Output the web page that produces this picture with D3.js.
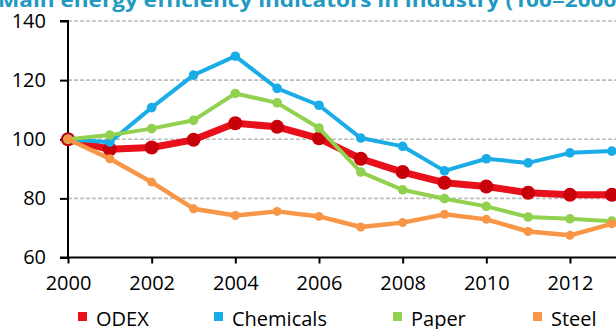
<!DOCTYPE html>
<html>
<head>
<meta charset="utf-8">
<script src="https://cdn.jsdelivr.net/npm/d3@7"></script>
<style>
html,body{margin:0;padding:0;background:#fff;}
svg{display:block;}
text{font-family:"Open Sans","Noto Sans",sans-serif;}
</style>
</head>
<body>
<svg id="chart" width="616" height="329"></svg>
<script>
const title = "Main energy efficiency indicators in industry (100=2000)";
const years = [2000,2001,2002,2003,2004,2005,2006,2007,2008,2009,2010,2011,2012,2013];
const xTicks = [2000,2002,2004,2006,2008,2010,2012];
const yTicks = [60,80,100,120,140];
const seriesNames = ["ODEX","Chemicals","Paper","Steel"];
const odex      = [100,96.6,97.2,99.8,105.4,104.2,100.3,93.4,88.9,85.3,84.0,81.9,81.2,81.2];
const chemicals = [100,99.0,110.7,121.7,128.1,117.2,111.5,100.4,97.6,89.3,93.4,92.0,95.4,96.0];
const paper     = [100,101.4,103.6,106.4,115.5,112.3,103.8,88.9,82.9,79.9,77.3,73.7,73.1,72.3];
const steel     = [100,93.4,85.5,76.5,74.2,75.6,73.9,70.3,71.8,74.6,72.9,68.8,67.5,71.4];

const seriesValues = [odex, chemicals, paper, steel];
const styles = [
  {line:"#e8101a", marker:"#c8000a", lw:7, r:7},
  {line:"#1aace6", marker:"#1aace6", lw:4, r:4.8},
  {line:"#92d050", marker:"#92d050", lw:4, r:4.8},
  {line:"#f79646", marker:"#f79646", lw:4.5, r:4.5}
];
const legendColors = ["#e8101a","#1aace6","#92d050","#f79646"];

const svg = d3.select("#chart");
const x = d3.scaleLinear().domain([2000,2013]).range([68,611.8]);
const y = d3.scaleLinear().domain([60,140]).range([257.5,21]);

// title (cut at top, as in the reference)
svg.append("text")
  .attr("x",-2).attr("y",7)
  .attr("fill","#2299c2")
  .attr("font-weight","bold")
  .attr("font-size",19)
  .attr("textLength",626).attr("lengthAdjust","spacingAndGlyphs")
  .text(title);

// gridlines
svg.append("g").selectAll("line").data(yTicks.filter(d=>d>60)).join("line")
  .attr("x1",68).attr("x2",616)
  .attr("y1",d=>y(d)).attr("y2",d=>y(d))
  .attr("stroke","#bdbdbd").attr("stroke-width",1.6)
  .attr("stroke-dasharray","4,2");

const labelFont = "'Open Sans','Noto Sans',sans-serif";

// y axis
const yAxis = d3.axisLeft(y).tickValues(yTicks).tickSize(8).tickPadding(14).tickFormat(d3.format("d"));
const gy = svg.append("g").attr("transform","translate(68,0)").call(yAxis);
gy.select(".domain").attr("stroke","#000").attr("stroke-width",2).attr("d",`M-8,${y(140)}H0V${y(60)}`);
gy.selectAll(".tick line").attr("stroke","#000").attr("stroke-width",2);
gy.selectAll(".tick text").attr("font-size",20).attr("fill","#000").attr("font-family",labelFont);

// x axis
const xAxis = d3.axisBottom(x).tickValues(xTicks).tickSize(6).tickPadding(12).tickFormat(d3.format("d"));
const gx = svg.append("g").attr("transform",`translate(0,${y(60)})`).call(xAxis);
gx.select(".domain").attr("stroke","#000").attr("stroke-width",2).attr("d","M60,0H616");
gx.selectAll(".tick line").attr("stroke","#000").attr("stroke-width",2);
gx.selectAll(".tick text").attr("font-size",20).attr("fill","#000").attr("font-family",labelFont);

// series
const line = d3.line().x((d,i)=>x(years[i])).y(d=>y(d));
seriesValues.forEach((vals,k)=>{
  const st = styles[k];
  const g = svg.append("g");
  g.append("path").datum(vals)
    .attr("d",line).attr("fill","none")
    .attr("stroke",st.line).attr("stroke-width",st.lw)
    .attr("stroke-linejoin","round").attr("stroke-linecap","round");
  g.selectAll("circle").data(vals).join("circle")
    .attr("cx",(d,i)=>x(years[i])).attr("cy",d=>y(d))
    .attr("r",st.r).attr("fill",st.marker);
});

// legend
const legX = [78,214,393,533];
const lg = svg.append("g").selectAll("g").data(seriesNames).join("g")
  .attr("transform",(d,i)=>`translate(${legX[i]},0)`);
lg.append("rect").attr("x",0).attr("y",312).attr("width",9).attr("height",9)
  .attr("fill",(d,i)=>legendColors[i]);
lg.append("text").attr("x",18).attr("y",326).attr("font-size",20).attr("fill","#000").text(d=>d);
</script>
</body>
</html>
